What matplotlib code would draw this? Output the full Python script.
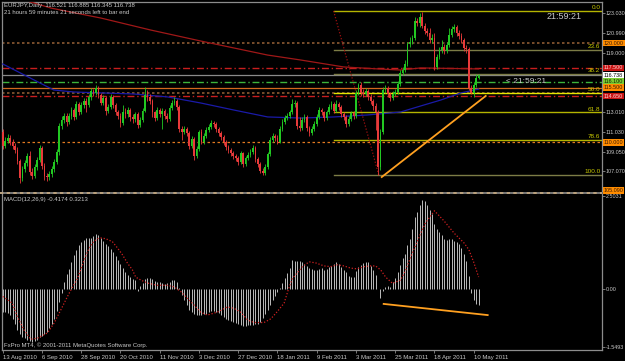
import numpy as np
import matplotlib.pyplot as plt
from matplotlib.lines import Line2D

plt.rcParams['font.family'] = ['Liberation Sans', 'DejaVu Sans']

# EURJPY daily, 13 Aug 2010 .. 12 May 2011 (bar index 0..194)
first_open = 111.0
closes = [
    109.6, 110.1, 110.4, 110.0, 109.6, 109.2, 108.1, 106.4, 107.3, 107.9,
    108.6, 107.0, 106.6, 107.5, 108.2, 109.4, 107.6, 106.6, 106.5, 106.8,
    107.3, 108.0, 109.0, 111.6, 112.2, 112.6, 112.0, 112.6, 113.3, 112.5,
    113.9, 113.0, 113.8, 114.2, 113.8, 114.6, 115.2, 115.0, 115.5, 114.8,
    114.0, 114.5, 113.2, 113.6, 114.6, 113.8, 113.0, 112.6, 111.9, 113.0,
    112.8, 113.3, 112.5, 112.3, 112.8, 111.7, 112.2, 113.2, 114.8, 114.6,
    114.2, 113.0, 112.4, 113.3, 112.8, 113.2, 112.6, 112.3, 113.5, 114.0,
    114.2, 113.6, 111.3, 111.0, 111.3, 110.9, 109.6, 110.3, 108.6, 109.3,
    111.0, 110.0, 110.6, 111.2, 111.5, 111.9, 111.8, 111.3, 110.9, 110.5,
    110.0, 109.5, 109.2, 108.9, 108.6, 108.4, 108.0, 108.9, 107.8, 108.4,
    108.7, 109.0, 109.4, 108.3, 107.8, 107.1, 106.9, 107.5, 108.8, 110.2,
    110.6, 110.4, 110.0, 111.3, 112.0, 112.4, 112.6, 113.0, 113.9, 114.0,
    111.6, 111.4, 112.2, 112.5, 111.4, 110.9, 111.3, 111.8, 112.5, 113.3,
    113.0, 112.4, 113.0, 113.6, 113.9, 113.2, 113.9, 113.6, 112.8, 112.5,
    111.8, 112.3, 112.9, 112.6, 115.0, 115.8, 115.0, 114.9, 115.2, 114.6,
    114.2, 113.7, 113.0, 107.5, 111.0, 115.3, 115.5, 114.9, 114.5, 114.9,
    115.1, 115.9, 117.0, 117.3, 117.9, 119.9, 120.1, 120.5, 122.2, 122.0,
    122.6, 121.7, 121.2, 121.0, 120.3, 120.5, 117.6, 118.6, 119.3, 119.6,
    119.2, 119.8, 120.8, 121.4, 121.6, 121.0, 120.7, 120.3, 119.5, 119.4,
    115.5, 115.0, 115.8, 116.521, 116.738,
]
highs = [
    111.3, 110.5, 110.8, 110.7, 110.3, 109.9, 109.5, 108.3, 107.6, 108.2,
    108.9, 109.1, 107.4, 107.8, 108.5, 109.7, 109.6, 107.9, 106.9, 107.1,
    107.6, 108.3, 109.3, 111.9, 112.6, 112.9, 112.9, 112.9, 113.6, 113.5,
    114.2, 114.1, 114.1, 114.5, 114.5, 114.9, 115.5, 115.4, 115.8, 115.7,
    115.0, 114.8, 114.7, 113.9, 114.9, 114.8, 114.0, 113.3, 112.9, 113.8,
    113.5, 113.6, 113.5, 112.8, 113.0, 113.0, 112.5, 113.5, 115.6, 115.3,
    114.9, 114.4, 113.2, 113.6, 113.5, 113.5, 113.4, 112.9, 113.8, 114.3,
    114.6, 114.4, 113.8, 111.6, 111.6, 111.5, 111.1, 110.6, 110.5, 109.6,
    111.2, 111.3, 110.9, 111.5, 111.8, 112.2, 112.1, 112.0, 111.5, 111.1,
    110.7, 110.2, 109.7, 109.4, 109.1, 108.8, 108.6, 109.1, 109.0, 108.6,
    109.0, 109.3, 109.7, 109.6, 108.5, 108.0, 107.4, 107.8, 109.0, 110.5,
    110.9, 110.8, 110.7, 111.6, 112.3, 112.7, 112.9, 113.3, 114.4, 114.3,
    114.2, 112.5, 112.5, 112.8, 112.7, 111.6, 111.6, 112.1, 112.8, 113.6,
    113.5, 113.2, 113.3, 113.9, 114.2, 114.1, 114.3, 114.1, 113.8, 113.0,
    112.7, 112.6, 113.2, 113.1, 115.3, 116.0, 116.1, 115.4, 115.5, 115.4,
    114.9, 114.4, 114.0, 113.3, 111.3, 115.6, 115.8, 115.7, 115.1, 115.2,
    115.4, 116.2, 117.3, 117.6, 118.3, 120.1, 120.6, 120.8, 122.6, 122.5,
    123.0, 123.15, 122.0, 121.5, 121.5, 120.9, 121.0, 118.9, 119.6, 120.3,
    119.9, 120.1, 121.5, 121.7, 121.9, 121.8, 121.3, 121.0, 120.5, 119.8,
    119.6, 115.8, 116.1, 116.9, 116.885,
]
lows = [
    109.3, 109.4, 109.9, 109.7, 109.3, 108.9, 107.8, 105.9, 106.1, 107.0,
    107.6, 106.7, 106.3, 106.4, 107.2, 108.0, 107.3, 106.2, 106.1, 106.2,
    106.5, 107.0, 107.8, 108.7, 111.3, 111.9, 111.6, 111.8, 112.3, 112.2,
    112.3, 112.7, 112.8, 113.5, 113.0, 113.6, 114.3, 114.7, 114.8, 114.5,
    113.8, 113.8, 112.7, 112.9, 113.4, 113.5, 112.7, 112.3, 111.5, 111.7,
    112.4, 112.5, 112.1, 111.9, 112.0, 111.4, 111.5, 112.0, 113.0, 114.2,
    113.9, 112.5, 112.1, 112.2, 112.5, 111.3, 112.3, 112.0, 112.1, 113.3,
    113.8, 113.3, 111.0, 110.2, 110.8, 110.6, 109.3, 109.4, 108.2, 108.4,
    109.1, 109.8, 109.8, 110.4, 111.0, 111.3, 111.5, 111.0, 110.6, 110.2,
    109.7, 109.2, 108.9, 108.6, 108.3, 108.1, 107.7, 107.8, 107.5, 107.6,
    108.2, 108.5, 108.8, 108.0, 107.5, 106.9, 106.7, 106.7, 107.3, 108.6,
    110.0, 110.1, 109.8, 109.9, 111.1, 111.8, 112.2, 112.4, 112.8, 113.6,
    111.3, 111.1, 111.2, 112.0, 111.1, 110.6, 110.7, 111.1, 111.6, 112.3,
    112.7, 112.1, 112.2, 112.8, 113.4, 112.9, 113.0, 113.3, 112.5, 112.2,
    111.5, 111.6, 112.1, 112.3, 112.4, 114.8, 114.7, 114.6, 114.7, 114.3,
    113.9, 113.3, 111.2, 106.7, 107.2, 110.8, 115.0, 114.6, 114.2, 114.3,
    114.7, 114.9, 115.7, 116.8, 117.1, 117.7, 119.6, 119.9, 120.3, 121.7,
    121.6, 121.5, 120.9, 120.7, 120.0, 120.0, 117.3, 117.4, 118.4, 119.0,
    118.9, 119.0, 119.6, 120.6, 121.1, 120.7, 120.4, 120.0, 119.2, 119.0,
    115.3, 114.9, 114.6, 115.6, 116.345,
]

# moving averages (read at a few bars)
ma_red_idx = [0, 8.6, 19.6, 40, 60.3, 80.7, 108, 121.5, 139, 152.9, 162.2, 170.4, 194]
ma_red_val = [124.8, 124.36, 123.55, 122.54, 121.33, 120.22, 118.8, 118.3, 117.6, 117.4, 117.29, 117.5, 117.4]
ma_blue_idx = [0, 20.8, 29, 53.4, 67.3, 80.7, 94.2, 108, 121.5, 135, 148.8, 162.2, 170.4, 178.6, 186.7, 194]
ma_blue_val = [117.9, 115.27, 115.07, 114.87, 114.57, 113.96, 113.25, 112.55, 112.44, 112.55, 112.75,
               113.05, 113.66, 114.26, 114.97, 115.37]

# MACD(12,26,9) main values (histogram) and signal line
macd_main = [
    -0.62, -0.63, -0.64, -0.70, -0.80, -0.95, -1.10, -1.20, -1.28, -1.32,
    -1.36, -1.40, -1.42, -1.40, -1.38, -1.30, -1.25, -1.20, -1.15, -1.05,
    -0.95, -0.80, -0.60, -0.35, -0.10, 0.20, 0.40, 0.55, 0.73, 0.90,
    1.05, 1.18, 1.27, 1.32, 1.37, 1.37, 1.38, 1.43, 1.48, 1.45,
    1.38, 1.30, 1.22, 1.15, 1.08, 1.00, 0.88, 0.78, 0.68, 0.56,
    0.45, 0.38, 0.32, 0.28, 0.25, -0.05, 0.08, 0.15, 0.28, 0.30,
    0.30, 0.27, 0.22, 0.20, 0.18, 0.15, 0.14, 0.16, 0.20, 0.24,
    0.25, 0.20, 0.02, -0.15, -0.30, -0.42, -0.55, -0.62, -0.68, -0.70,
    -0.70, -0.70, -0.68, -0.66, -0.62, -0.60, -0.60, -0.62, -0.65, -0.70,
    -0.75, -0.80, -0.83, -0.86, -0.88, -0.90, -0.94, -0.97, -1.00, -0.98,
    -0.97, -0.97, -0.96, -0.95, -0.93, -0.88, -0.78, -0.68, -0.57, -0.44,
    -0.30, -0.18, -0.08, 0.02, 0.15, 0.30, 0.43, 0.56, 0.78, 0.76,
    0.75, 0.75, 0.72, 0.68, 0.63, 0.57, 0.55, 0.52, 0.50, 0.55,
    0.57, 0.52, 0.55, 0.60, 0.63, 0.68, 0.72, 0.66, 0.58, 0.52,
    0.45, 0.36, 0.32, 0.33, 0.48, 0.60, 0.65, 0.70, 0.73, 0.72,
    0.62, 0.50, 0.38, 0.00, -0.25, -0.05, 0.06, 0.08, 0.05, 0.18,
    0.30, 0.45, 0.65, 0.82, 0.95, 1.18, 1.35, 1.62, 1.94, 2.07,
    2.25, 2.38, 2.35, 2.25, 2.12, 2.00, 1.75, 1.62, 1.52, 1.44,
    1.35, 1.32, 1.34, 1.33, 1.30, 1.26, 1.20, 1.10, 0.95, 0.75,
    0.35, -0.10, -0.30, -0.40, -0.4174,
]
sig_idx = [0, 3.9, 6, 8.7, 11.4, 14.1, 18.2, 20.9, 23.6, 26.4, 28.4, 30.4, 32.5, 34.5, 36.6,
           38.6, 40, 42, 44.7, 46.8, 48.8, 50.8, 52.9, 54.2, 56.3, 59, 63, 67, 69.8, 72.6,
           75.3, 78, 80.7, 83.4, 87.5, 91.6, 94.3, 97, 99.8, 102.5, 106.5, 109.3, 112, 114.7,
           116.5, 118, 120, 122.2, 124.9, 127.6, 131, 133.7, 136.4, 139.1, 141.9, 144.6, 147.3,
           150, 152, 154.1, 156.1, 158.9, 162.2, 164.3, 166.3, 168.4, 170.4, 172.4, 176, 180,
           184, 188, 190, 192, 194]
sig_val = [-0.20, -0.38, -0.75, -1.10, -1.35, -1.32, -1.18, -0.92, -0.57, -0.20, 0.05, 0.27, 0.65,
           1.00, 1.24, 1.35, 1.37, 1.35, 1.27, 1.10, 0.92, 0.70, 0.51, 0.32, 0.24, 0.16, 0.10, 0.10,
           0.06, -0.07, -0.25, -0.43, -0.62, -0.70, -0.62, -0.48, -0.52, -0.62, -0.83, -0.90, -0.90,
           -0.80, -0.60, -0.38, 0.00, 0.27, 0.43, 0.60, 0.73, 0.70, 0.62, 0.60, 0.65, 0.62, 0.56,
           0.54, 0.60, 0.62, 0.62, 0.51, 0.32, 0.15, 0.24, 0.51, 0.86, 1.18, 1.50, 1.78, 2.10,
           1.82, 1.50, 1.24, 1.06, 0.72, 0.3213]

date_labels = ['13 Aug 2010', '6 Sep 2010', '28 Sep 2010', '20 Oct 2010', '11 Nov 2010',
               '3 Dec 2010', '27 Dec 2010', '18 Jan 2011', '9 Feb 2011', '3 Mar 2011',
               '25 Mar 2011', '18 Apr 2011', '10 May 2011']
price_ticks = [123.03, 120.99, 119.0, 113.01, 111.03, 109.05, 107.07]

# horizontal level lines: price, colour, style, width
levels = [
    (120.0, '#8c5a32', (0, (1.5, 1.5)), 1.2),
    (117.5, '#c81e1e', (0, (5, 2, 1, 2)), 1.0),
    (116.738, '#8a8a8a', '-', 0.9),
    (116.1, '#3cb43c', (0, (5, 2, 1, 2)), 1.0),
    (115.5, '#d2691e', '-', 0.9),
    (115.0, '#8c5a32', (0, (1.5, 1.5)), 1.2),
    (114.65, '#c81e1e', (0, (5, 2, 1, 2)), 1.0),
    (110.0, '#e07820', (0, (2, 2)), 0.9),
]
# labels shown on the price scale: price, text, box colour, text colour
scale_boxes = [
    (120.0, '120.000', '#ff8c00', '#3a1a00'),
    (117.5, '117.500', '#c81414', '#ffd0d0'),
    (116.738, '116.738', '#ffffff', '#000000'),
    (116.1, '116.100', '#7ccd32', '#102000'),
    (115.5, '115.500', '#ff8c00', '#3a1a00'),
    (114.65, '114.650', '#c81414', '#ffd0d0'),
    (110.0, '110.000', '#ff8c00', '#3a1a00'),
    (105.09, '105.090', '#ff8c00', '#3a1a00'),
]

# fibonacci retracement
fib_levels = [0.0, 23.6, 38.2, 50.0, 61.8, 78.6, 100.0]
fib_colors = ['#b4b400', '#7c7c46', '#7c7c46', '#e6e600', '#b4b400', '#b4b400', '#7c7c46']
fib_high, fib_low = 123.25, 106.69
fib_start, fib_end = 134.9, 153.3

# trend lines (bar index, value)
trend_price = ([154.5, 196.9], [106.48, 114.67])
trend_macd = ([155.3, 197.7], [-0.40, -0.70])

n = len(closes)
idx = np.arange(n)
closes = np.array(closes)
opens = np.concatenate([[first_open], closes[:-1]])
highs = np.array(highs)
lows = np.array(lows)

W, H = 625, 361
fig = plt.figure(figsize=(W / 100, H / 100), dpi=100, facecolor='black')


def fx(px):
    return px / W


def fy(py):
    return 1 - py / H


grid_col = '#8c8c8c'
txt_col = '#c8c8c8'
fs = 4.3
fs_scale = 3.9
ax = fig.add_axes([fx(2), fy(191), fx(600), 189 / H])
axm = fig.add_axes([fx(2), fy(350), fx(600), 156 / H])
xmin, xmax = -0.3, 244.3
for a in (ax, axm):
    a.set_facecolor('black')
    a.set_xlim(xmin, xmax)
    for s in a.spines.values():
        s.set_color(grid_col)
        s.set_linewidth(0.9)
    a.yaxis.tick_right()
    a.tick_params(axis='y', colors=grid_col, labelcolor=txt_col, labelsize=fs_scale, length=2, width=0.6, pad=0.8)
ax.spines['bottom'].set_visible(False)
axm.spines['top'].set_visible(False)
ax.set_xticks([])

ax.set_ylim(105.07, 124.16)
ax.set_yticks(price_ticks)
ax.set_yticklabels(['%.3f' % p for p in price_ticks])

# level lines
for p, c, ls, lw in levels:
    ax.axhline(p, color=c, linestyle=ls, linewidth=lw, zorder=1)

# fibonacci
fib_prices = [fib_high - lv / 100 * (fib_high - fib_low) for lv in fib_levels]
for lv, p, c in zip(fib_levels, fib_prices, fib_colors):
    ax.plot([fib_start, xmax], [p, p], color=c, linewidth=1.0, zorder=2)
    ax.text(xmax - 0.6, p + 0.08, '%.1f' % lv, color='#c8c800', fontsize=4.6, ha='right', va='bottom', zorder=5)
ax.plot([fib_start, fib_end], [fib_high, fib_low], color='#a01010', linestyle=(0, (1, 1.5)), linewidth=0.9, zorder=2)

# moving averages
ax.plot(ma_red_idx, ma_red_val, color='#a01818', linewidth=0.9, zorder=3)
ax.plot(ma_blue_idx, ma_blue_val, color='#1a1aa8', linewidth=0.9, zorder=3)

# candles
bull = closes >= opens
body_col = np.where(bull, '#22c822', '#e83a3a')
ax.vlines(idx, lows, highs, colors=body_col, linewidth=0.6, zorder=4)
body_h = np.maximum(np.abs(closes - opens), 0.06)
ax.bar(idx, body_h, bottom=np.minimum(opens, closes), width=0.7, color=body_col, linewidth=0, zorder=4)

ax.plot(*trend_price, color='#ffa020', linewidth=1.3, zorder=5)

for p, t, bc, tc in scale_boxes:
    ax.text(1.003, p, t, transform=ax.get_yaxis_transform(), fontsize=fs_scale, color=tc, ha='left', va='center',
            clip_on=False, zorder=6, bbox=dict(boxstyle='square,pad=0.15', fc=bc, ec='none'))

ax.text(229, 122.7, '21:59:21', color=txt_col, fontsize=6.5, ha='center', va='center')
ax.text(205, 116.1, '< 21:59:21', color=txt_col, fontsize=6, ha='left', va='center')

# MACD panel
axm.set_ylim(-1.637, 2.55)
axm.vlines(idx, 0, macd_main, colors='#bcbcbc', linewidth=0.7, zorder=2)
axm.plot(sig_idx, sig_val, color='#d02020', linestyle=(0, (1, 1.5)), linewidth=0.9, zorder=3)
axm.plot(*trend_macd, color='#ffa020', linewidth=1.3, zorder=4)
axm.set_yticks([2.5031, 0.0, -1.5493])
axm.set_yticklabels(['2.5031', '0.00', '-1.5493'])
axm.set_xticks(np.arange(len(date_labels)) * 16)
axm.set_xticklabels(date_labels)
axm.tick_params(axis='x', colors=grid_col, labelcolor=txt_col, labelsize=fs, length=2.5, width=0.6, pad=1.2)
for lab in axm.get_xticklabels():
    lab.set_ha('left')

# separator between panels
fig.add_artist(Line2D([0, fx(602)], [fy(192.5), fy(192.5)], color='#8c8c8c', linewidth=1.2))
fig.add_artist(Line2D([0, fx(602)], [fy(192.5), fy(192.5)], color='#c8aa80', linewidth=1.2,
                      linestyle=(0, (2, 2))))

fig.text(fx(4), fy(6), 'EURJPY,Daily  116.521 116.885 116.345 116.738', color=txt_col, fontsize=fs, va='center')
fig.text(fx(4), fy(13), '21 hours 59 minutes 21 seconds left to bar end', color=txt_col, fontsize=fs, va='center')
fig.text(fx(4), fy(200), 'MACD(12,26,9) -0.4174 0.3213', color=txt_col, fontsize=fs, va='center')
fig.text(fx(4), fy(345), 'FxPro MT4, \u00a9 2001-2011 MetaQuotes Software Corp.', color=txt_col, fontsize=fs,
         va='center')

fig.savefig('out.png', dpi=100, facecolor='black')
